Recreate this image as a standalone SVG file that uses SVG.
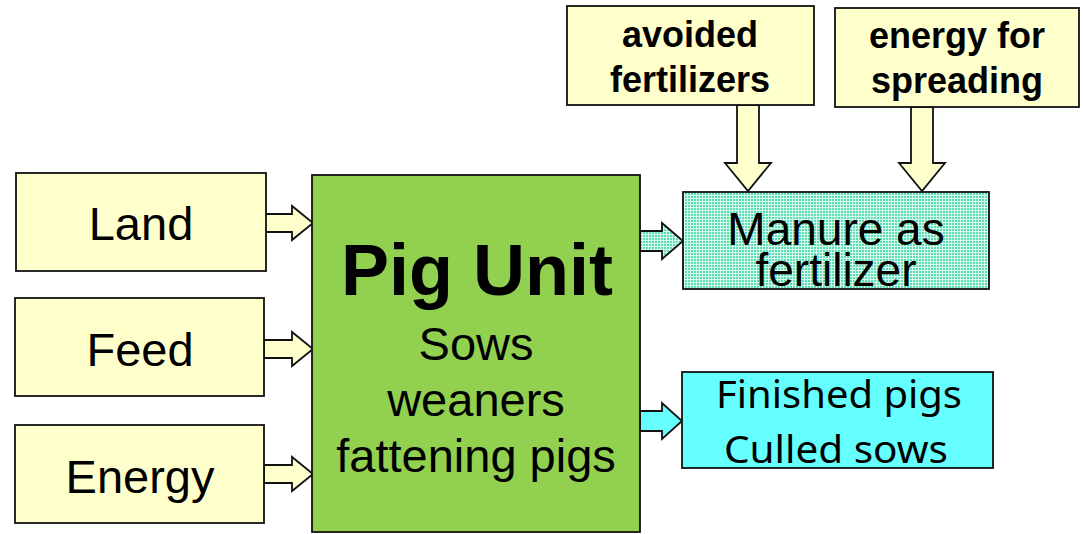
<svg xmlns="http://www.w3.org/2000/svg" width="1083" height="534" viewBox="0 0 1083 534">
<defs>
<pattern id="grid" width="3" height="3" patternUnits="userSpaceOnUse">
<rect width="3" height="3" fill="#5fdcb4"/>
<rect x="0" y="0" width="3" height="1" fill="#d4faee"/>
<rect x="0" y="0" width="1" height="3" fill="#d4faee"/>
</pattern>
<style>
.box{stroke:#111;stroke-width:1.8}
.y{fill:#ffffcc}
.g{fill:#92d050}
.c{fill:#66ffff}
.m{fill:url(#grid)}
.t{font-family:"Liberation Sans",Arial,sans-serif;fill:#000;text-anchor:middle}
.b{font-weight:bold}
.cal{font-family:"Noto Sans","Liberation Sans",sans-serif;fill:#000;text-anchor:middle}
.arr{stroke:#111;stroke-width:1.8;stroke-linejoin:miter}
</style>
</defs>
<rect width="1083" height="534" fill="#fff"/>
<g id="connectors">
<polygon class="arr y" points="264,214 292,214 292,206 313,223 292,240 292,232 264,232"/>
<polygon class="arr y" points="264,340 292,340 292,332 313,349 292,366 292,358 264,358"/>
<polygon class="arr y" points="264,465 292,465 292,457 313,474 292,491 292,483 264,483"/>
<polygon class="arr m" points="640,231 662,231 662,223 683,241 662,259 662,251 640,251"/>
<polygon class="arr c" points="640,411 662,411 662,403 682,421 662,439 662,431 640,431"/>
<polygon class="arr y" points="737,105 759,105 759,163 771,163 748,191 725,163 737,163"/>
<polygon class="arr y" points="911,107 933,107 933,163 945,163 922,191 899,163 911,163"/>
</g>
<g id="land"><rect class="box y" x="16" y="173" width="250" height="98"/><text class="t" x="141" y="240" font-size="47">Land</text></g>
<g id="feed"><rect class="box y" x="15" y="298" width="249" height="98"/><text class="t" x="140" y="366" font-size="47">Feed</text></g>
<g id="energy"><rect class="box y" x="15" y="425" width="249" height="98"/><text class="t" x="140" y="493" font-size="47">Energy</text></g>
<g id="pigunit"><rect class="box g" x="312" y="175" width="328" height="357"/>
<text class="t b" x="477" y="295" font-size="72">Pig Unit</text>
<text class="t" x="476" y="360" font-size="47">Sows</text>
<text class="t" x="476" y="416" font-size="47">weaners</text>
<text class="t" x="476" y="472" font-size="47">fattening pigs</text></g>
<g id="manure"><rect class="box m" x="683" y="192" width="306" height="97"/>
<text class="t" x="836" y="245" font-size="46">Manure as</text>
<text class="t" x="836" y="286" font-size="46">fertilizer</text></g>
<g id="finished"><rect class="box c" x="682" y="372" width="311" height="96"/>
<text class="cal" x="839" y="408" font-size="39" textLength="246" lengthAdjust="spacingAndGlyphs">Finished pigs</text>
<text class="cal" x="836" y="463" font-size="39" textLength="224" lengthAdjust="spacingAndGlyphs">Culled sows</text></g>
<g id="avoided"><rect class="box y" x="567" y="6" width="247" height="99"/>
<text class="t b" x="690" y="47" font-size="36">avoided</text>
<text class="t b" x="690" y="92" font-size="36">fertilizers</text></g>
<g id="spreading"><rect class="box y" x="835" y="8" width="244" height="99"/>
<text class="t b" x="957" y="48" font-size="36">energy for</text>
<text class="t b" x="957" y="93" font-size="36">spreading</text></g>
</svg>
